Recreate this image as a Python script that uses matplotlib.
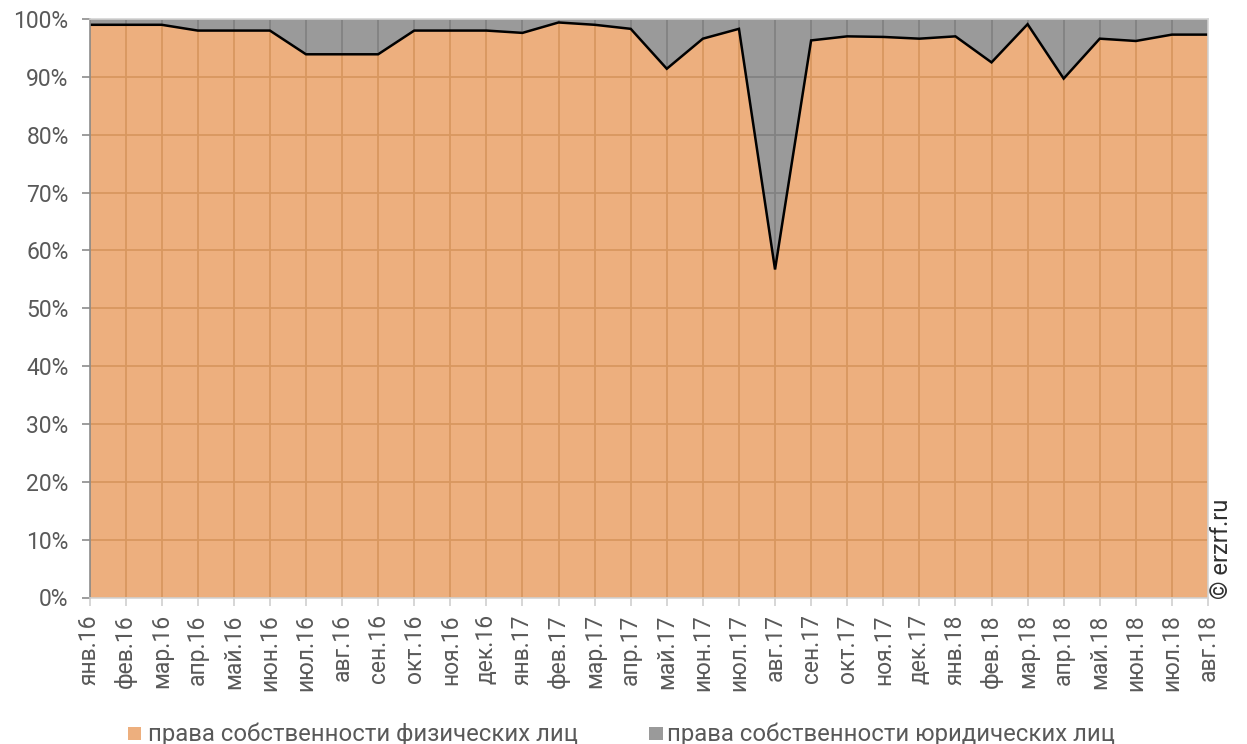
import matplotlib
matplotlib.use("Agg")
import matplotlib.pyplot as plt
from matplotlib.patches import Rectangle
import numpy as np

plt.rcParams['font.family'] = ['Roboto', 'DejaVu Sans']

# Monthly labels
months = ["янв.16", "фев.16", "мар.16", "апр.16", "май.16", "июн.16", "июл.16", "авг.16",
          "сен.16", "окт.16", "ноя.16", "дек.16", "янв.17", "фев.17", "мар.17", "апр.17",
          "май.17", "июн.17", "июл.17", "авг.17", "сен.17", "окт.17", "ноя.17", "дек.17",
          "янв.18", "фев.18", "мар.18", "апр.18", "май.18", "июн.18", "июл.18", "авг.18"]

# Share of registered ownership rights, %
individuals = [99.0, 99.0, 99.0, 98.0, 98.0, 98.0, 93.9, 93.9, 93.9, 98.0, 98.0, 98.0,
               97.6, 99.4, 99.0, 98.3, 91.4, 96.6, 98.3, 56.7, 96.3, 97.0, 96.9, 96.6,
               97.0, 92.5, 99.1, 89.7, 96.6, 96.2, 97.3, 97.3]
legal_entities = [1.0, 1.0, 1.0, 2.0, 2.0, 2.0, 6.1, 6.1, 6.1, 2.0, 2.0, 2.0,
                  2.4, 0.6, 1.0, 1.7, 8.6, 3.4, 1.7, 43.3, 3.7, 3.0, 3.1, 3.4,
                  3.0, 7.5, 0.9, 10.3, 3.4, 3.8, 2.7, 2.7]

series_names = ["права собственности физических лиц", "права собственности юридических лиц"]
y_ticks = list(range(0, 101, 10))

ORANGE = "#EDAF7E"
GRAY = "#9A9A9A"
ORANGE_GRID = "#D8975F"
GRAY_GRID = "#828282"
TEXT = "#595959"

W, H = 1247, 744
fig = plt.figure(figsize=(W / 100, H / 100), dpi=100)
x0, x1, ytop, ybot = 89.5, 1208, 19, 597.5
ax = fig.add_axes([x0 / W, (H - ybot) / H, (x1 - x0) / W, (ybot - ytop) / H])

x = np.arange(len(months))
polys = ax.stackplot(x, individuals, legal_entities, colors=[ORANGE, GRAY],
                     labels=series_names, linewidth=0)
polys[0].set_zorder(1)
polys[1].set_zorder(2)

# grid lines: tinted orange over the lower band, darker gray over the upper band
ax.vlines(x, 0, 100, colors=ORANGE_GRID, linewidth=1.3, zorder=1.5)
ax.hlines(y_ticks, 0, len(months) - 1, colors=ORANGE_GRID, linewidth=1.3, zorder=1.5)
gray_path = polys[1].get_paths()[0]
for coll in (ax.vlines(x, 0, 100, colors=GRAY_GRID, linewidth=1.3, zorder=2.5),
             ax.hlines(y_ticks, 0, len(months) - 1, colors=GRAY_GRID, linewidth=1.3, zorder=2.5)):
    coll.set_clip_path(gray_path, ax.transData)

ax.plot(x, individuals, color="black", linewidth=1.8, zorder=3, solid_joinstyle="miter")

ax.set_xlim(0, len(months) - 1)
ax.set_ylim(0, 100)
ax.set_xticks(x)
ax.set_xticklabels(months, rotation=90, fontsize=16.5, color=TEXT)
ax.set_yticks(y_ticks)
ax.set_yticklabels([f"{v}%" for v in y_ticks], fontsize=16.5, color=TEXT)
ax.tick_params(axis="x", direction="out", length=6, width=1.2, color="#D0D0D0", pad=6)
ax.tick_params(axis="y", direction="out", length=6, width=1.2, color="#8C8C8C", pad=9)

for side in ("top", "right", "bottom"):
    ax.spines[side].set_color("#D4D4D4")
    ax.spines[side].set_linewidth(1.2)
ax.spines["left"].set_color("#8C8C8C")
ax.spines["left"].set_linewidth(1.2)
for s in ax.spines.values():
    s.set_zorder(4)

# legend along the bottom edge
legend_items = [(127.5, 148, ORANGE, series_names[0]), (649, 667, GRAY, series_names[1])]
for sx, tx, col, label in legend_items:
    fig.patches.append(Rectangle((sx / W, (H - 740) / H), 13.5 / W, 13.5 / H,
                                 transform=fig.transFigure, facecolor=col, edgecolor="none"))
    fig.text(tx / W, (H - 741) / H, label, fontsize=17.2, color=TEXT, ha="left", va="baseline")

fig.text(1233 / W, (H - 599) / H, "© erzrf.ru", rotation=90, fontsize=17,
         color="#303030", ha="right", va="bottom")

fig.savefig("out.png", dpi=100)
